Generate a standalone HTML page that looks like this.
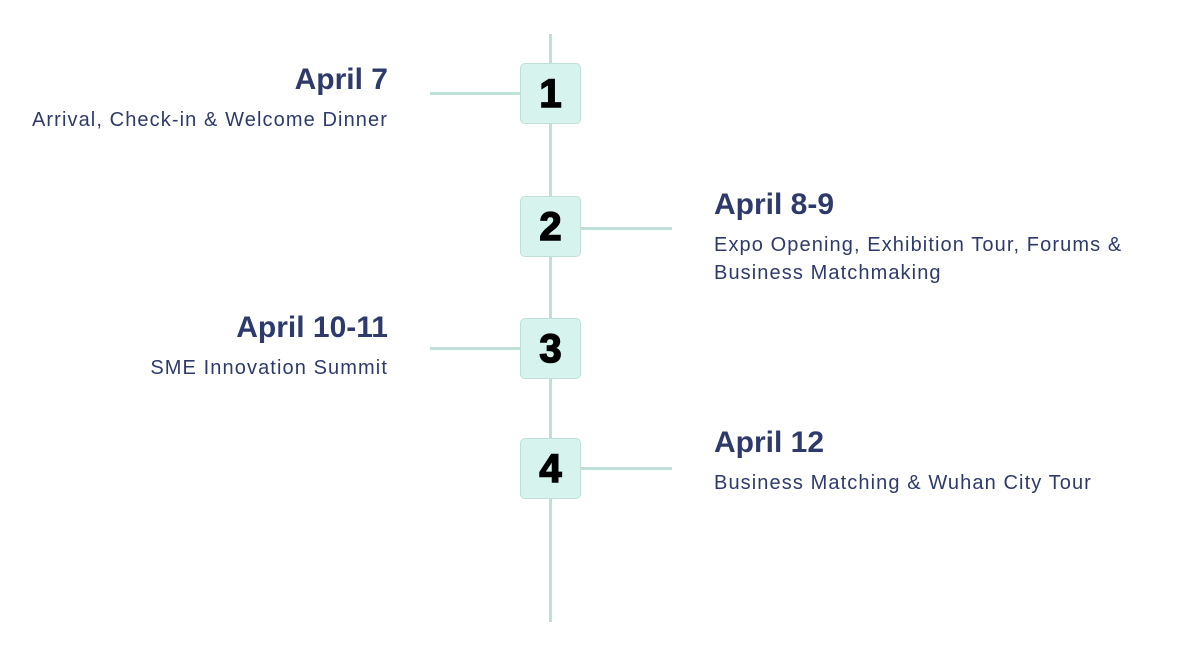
<!DOCTYPE html>
<html><head><meta charset="utf-8"><style>
body{margin:0;width:1200px;height:655px;background:#fff;position:relative;font-family:"Liberation Sans",sans-serif;overflow:hidden}
.v{position:absolute;left:549px;top:34px;width:3px;height:588px;background:#bfe0d8}
.h{position:absolute;height:3px;background:#bfe0d8;width:92px}
.b{position:absolute;left:520px;width:61px;height:61px;background:#d6f3ee;border:1px solid #bfe0d8;border-radius:5px;box-sizing:border-box;text-align:center;line-height:60px;font-size:40px;font-weight:900;color:#000;-webkit-text-stroke:1.5px #000}
.t{position:absolute;color:#2e3a6b}
.t b{display:block;font-size:30px;font-weight:700;line-height:34px}
.t span{display:block;font-size:20px;line-height:28px;margin-top:9px;letter-spacing:1.1px}
.l{right:812px;text-align:right}
.r{left:714px}
</style></head><body>
<div class="v"></div>
<div class="h" style="left:430px;top:92px"></div>
<div class="h" style="left:580px;top:227px"></div>
<div class="h" style="left:430px;top:347px"></div>
<div class="h" style="left:580px;top:467px"></div>
<div class="b" style="top:63px">1</div>
<div class="b" style="top:196px">2</div>
<div class="b" style="top:318px">3</div>
<div class="b" style="top:438px">4</div>
<div class="t l" style="top:63px"><b>April 7</b><span>Arrival, Check-in &amp; Welcome Dinner</span></div>
<div class="t r" style="top:188px"><b>April 8-9</b><span>Expo Opening, Exhibition Tour, Forums &amp;<br>Business Matchmaking</span></div>
<div class="t l" style="top:311px"><b>April 10-11</b><span>SME Innovation Summit</span></div>
<div class="t r" style="top:426px"><b>April 12</b><span>Business Matching &amp; Wuhan City Tour</span></div>
</body></html>
